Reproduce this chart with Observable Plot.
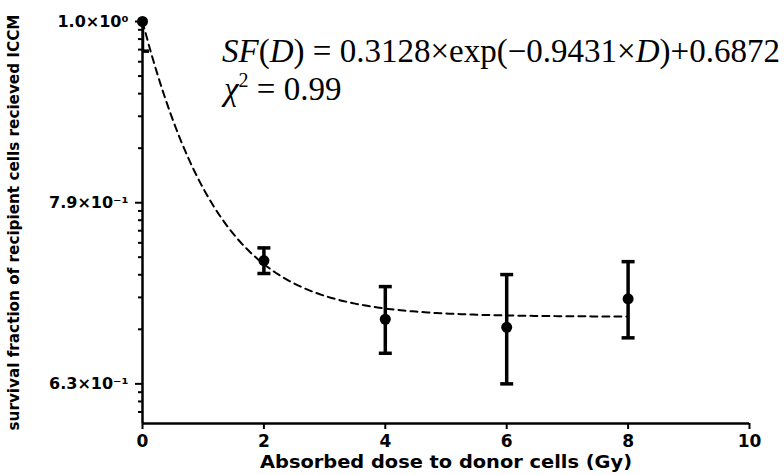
<!DOCTYPE html>
<html>
<head>
<meta charset="utf-8">
<script src="https://cdn.jsdelivr.net/npm/d3@7"></script>
<script src="https://cdn.jsdelivr.net/npm/@observablehq/plot@0.6"></script>
<style>
  body { margin: 0; background: #fff; }
  #chart svg { display: block; }
</style>
</head>
<body>
<div id="chart"></div>
<script>
// Survival of recipient cells vs. absorbed dose to donor cells
const doses = [0, 2, 4, 6, 8];
const survival = [1.0, 0.738, 0.685, 0.678, 0.703];
const sd = [0.037, 0.012, 0.029, 0.047, 0.034];

// Fitted model SF(D) = A·exp(−k·D) + C
const fitA = 0.3128;
const fitK = 0.9431;
const fitC = 0.6872;
const chiSq = 0.99;

const xTicks = [0, 2, 4, 6, 8, 10];
const yTicks = [1.0, 0.7943, 0.6310];
const yTickLabels = ["1.0×10⁰", "7.9×10⁻¹", "6.3×10⁻¹"];
const yDomain = [0.6, 1.0];

const xTitle = "Absorbed dose to donor cells (Gy)";
const yTitle = "survival fraction of recipient cells recieved ICCM";

const rows = doses.map((d, i) => ({
  dose: d,
  sf: survival[i],
  lo: survival[i] - sd[i],
  hi: survival[i] + sd[i]
}));

// dashed fit curve over the measured dose range
const curve = d3.range(0, 8.0001, 0.05).map(D => ({ D, sf: fitA * Math.exp(-fitK * D) + fitC }));

// minor ticks: log-like subdivision of each 0.1-decade interval
const minorTicks = [];
for (const lower of [0.7943, 0.6310, 0.5012]) {
  for (let k = 2; k <= 9; k++) {
    const v = lower * Math.pow(k, 0.1);
    if (v > yDomain[0] && v < yDomain[1]) minorTicks.push(v);
  }
}

// horizontal bar used for error-bar caps
const capSymbol = {
  draw(ctx, size) {
    const r = Math.sqrt(size / Math.PI);
    ctx.moveTo(-r, 0);
    ctx.lineTo(r, 0);
  }
};

const sans = "'DejaVu Sans', Arial, sans-serif";

const chart = Plot.plot({
  width: 784,
  height: 475,
  marginLeft: 142,
  marginRight: 35,
  marginTop: 21,
  marginBottom: 52,
  style: { fontFamily: sans, color: "#000", background: "#fff" },
  x: { domain: [0, 10] },
  y: { type: "log", domain: yDomain },
  marks: [
    Plot.line(curve, { x: "D", y: "sf", stroke: "#000", strokeWidth: 2, strokeDasharray: "7,5" }),
    Plot.ruleX(rows, { x: "dose", y1: "lo", y2: "hi", stroke: "#000", strokeWidth: 3.5, clip: true }),
    Plot.dot(rows, { x: "dose", y: "lo", symbol: capSymbol, r: 6.5, stroke: "#000", strokeWidth: 3.5, fill: "none", clip: true }),
    Plot.dot(rows, { x: "dose", y: "hi", symbol: capSymbol, r: 6.5, stroke: "#000", strokeWidth: 3.5, fill: "none", clip: true }),
    Plot.dot(rows, { x: "dose", y: "sf", r: 5.5, fill: "#000", stroke: "none" }),
    Plot.axisX(xTicks, { tickSize: 6, tickPadding: 5, fontSize: 17, fontWeight: "bold", strokeWidth: 2, label: null }),
    Plot.axisY(yTicks, {
      tickSize: 7, tickPadding: 7, fontSize: 16, fontWeight: "bold", strokeWidth: 2, label: null,
      tickFormat: d => yTickLabels[yTicks.indexOf(d)]
    }),
    Plot.axisY(minorTicks, { tickSize: 4, strokeWidth: 2, tickFormat: () => "", label: null }),
    Plot.ruleY([yDomain[0]], { stroke: "#000", strokeWidth: 2.5 }),
    Plot.ruleX([0], { stroke: "#000", strokeWidth: 2.5 }),
    Plot.text([xTitle], { frameAnchor: "bottom", dy: 44, fontSize: 17, fontWeight: "bold", textAnchor: "middle", className: "x-title" }),
    Plot.text([yTitle], { frameAnchor: "left", rotate: -90, dx: -128, fontSize: 15, fontWeight: "bold", textAnchor: "middle", className: "y-title" })
  ]
});

const svg = d3.select(chart);
// titles stretched to their full printed widths
svg.selectAll(".x-title text").attr("textLength", 372).attr("lengthAdjust", "spacingAndGlyphs");
svg.selectAll(".y-title text").attr("textLength", 416).attr("lengthAdjust", "spacingAndGlyphs");

// fit equation annotation
const serif = "'Liberation Serif', 'Times New Roman', serif";
const eq = svg.append("text")
  .attr("x", 222).attr("y", 62)
  .attr("text-anchor", "start")
  .attr("textLength", 558).attr("lengthAdjust", "spacingAndGlyphs")
  .style("font-family", serif)
  .style("font-size", "33px")
  .attr("fill", "#000");
eq.append("tspan").style("font-style", "italic").text("SF");
eq.append("tspan").text("(");
eq.append("tspan").style("font-style", "italic").text("D");
eq.append("tspan").text(`) = ${fitA.toFixed(4)}×exp(−${fitK.toFixed(4)}×`);
eq.append("tspan").style("font-style", "italic").text("D");
eq.append("tspan").text(`)+${fitC.toFixed(4)}`);

const chi = svg.append("text")
  .attr("x", 224).attr("y", 100)
  .attr("text-anchor", "start")
  .style("font-family", serif)
  .style("font-size", "33px")
  .attr("fill", "#000");
chi.append("tspan").style("font-style", "italic").text("χ");
chi.append("tspan").attr("dy", -13).style("font-size", "20px").text("2");
chi.append("tspan").attr("dy", 13).text(` = ${chiSq.toFixed(2)}`);

document.getElementById("chart").appendChild(chart);
</script>
</body>
</html>
